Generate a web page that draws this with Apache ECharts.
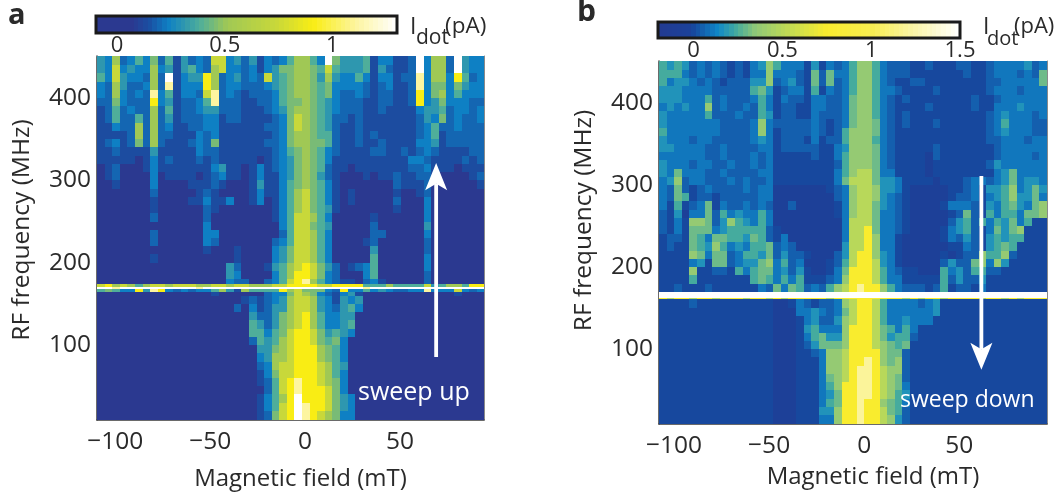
<!DOCTYPE html>
<html><head><meta charset="utf-8">
<style>html,body{margin:0;padding:0;background:#fff}#c{width:1062px;height:499px}</style>
<script src="https://cdn.jsdelivr.net/npm/echarts@6/dist/echarts.min.js"></script>
</head><body><div id="c"></div>
<script>
const FONT = '"Open Sans"';
const TXT = '#2a2a2a';
// Row upper edges in MHz, last entry is the lower limit
const edgesA = [451,440,430,420,410,400,390,380,370,360,350,340,330,320,310,300,290,280,270,260,250,240,230,220,210,200,190,180,174,171,168,165,160,150,140,130,120,110,100,90,80,70,60,50,40,30,20,9];
const edgesB = [451,440,430,420,410,400,390,380,370,360,350,340,330,320,310,300,290,280,270,260,250,240,230,220,210,200,190,180,170,163,161,150,140,130,120,110,100,90,80,70,60,50,40,30,20,9];
const fieldStartA = -109.6, fieldStartB = -107.9, fieldStep = 4;
// Current levels, one char per 4 mT column (index into levelsA / levelsB)
const levelsA = [0,0.14,0.19,0.237,0.31,0.386,0.45,0.51,0.74,0.91,1.11,1.3];
const levelsB = [-0.05,0,0.05,0.1,0.17,0.24,0.3,0.37,0.5,0.75,1.2,1.5];
const rowsA = [
"4372353625 1423288342 4132357753 b644451331 12b3772b43 3",
"4383433734 1453278332 3134667765 8544451421 12b3772b43 3",
"538433272b 1344972342 3284567764 7433531331 22a3773952 3",
"327422372a 1333972332 2234567765 6333321231 12a3663643 3",
"3273232a35 13328a2321 2223567765 6322321221 1293673533 3",
"2263222934 12235a2221 1223566765 4322211221 1293463332 2",
"1252322725 1223442221 1123467765 4322211211 1134452332 3",
"1252252724 1222331221 1112368765 4221211111 1124362322 3",
"1132272723 1122331111 1122368765 4211211111 1123522322 2",
"1111272722 1113231111 1112367765 5211212111 1123512222 2",
"1231262721 1123261111 1122367766 5211211211 1133412222 2",
"1121111411 1113221111 1112356765 3211112211 2123211112 2",
"1111101312 1112121111 1012346765 3111111111 1332111121 2",
"0120001311 1111134110 1312346765 2110111111 1223111011 1",
"0120000301 1110123110 1311346764 2100010112 1122100001 2",
"0010000300 0011121000 1411356765 3100000002 1112000000 1",
"0000000200 0001210000 1311357865 3101000001 0012000000 0",
"0000000100 0011311300 1301357865 3101000002 0003000000 0",
"0000000100 0000210000 0001357865 4100000001 0003000000 0",
"0000000200 0000200000 0001358875 3000001000 0003000000 0",
"0000000000 0000300000 0000358865 4000002000 0004000000 0",
"0000000200 0000330000 0000258875 3000002200 0003000000 0",
"0000000200 0000320000 0002358875 3000012000 0002000000 0",
"0000000000 0000100010 0003468875 3000004000 0002000000 0",
"0000000100 0000000010 0003468875 3000005000 0003000000 0",
"0000000000 0000000420 0014578986 4201235000 0003000000 0",
"0000000000 0000000430 0003579986 3200035000 0002000000 0",
"0000000000 0000000322 0023589a75 3211023100 0002000000 0",
"8978757887 8887788788 7778899998 8999955575 5558457759 9",
"bbabbbbbbb bbbabbbbbb bbbbbbbbbb bbbbbabbbb bbbbbbbbbb b",
"5653394a93 2323357417 5555978666 3293353432 233a333832 3",
"0000000000 0000010000 0023368763 2134100000 0000000100 0",
"0000000000 0000000001 2123478874 3143400000 0000000000 0",
"0000000000 0000000020 3124478874 3245300000 0000000000 0",
"0000000000 0000000000 4224678975 3344000000 0000000000 0",
"0000000000 0000000000 5424678975 3345000000 0000000000 0",
"0000000000 0000000000 5535689986 4543000000 0000000000 0",
"0000000000 0000000000 2545789986 5630000000 0000000000 0",
"0000000000 0000000000 0446789997 6530000000 0000000000 0",
"0000000000 0000000000 0347789997 6530000000 0000000000 0",
"0000000000 0000000000 0237889998 7540000000 0000000000 0",
"0000000000 0000000000 0136889998 7530000000 0000000000 0",
"0000000000 0000000000 012589a998 7630000000 0000000000 0",
"0000000000 0000000000 002589a999 8630000000 0000000000 0",
"0000000000 0000000000 013579b999 8643000000 0000000000 0",
"0000000000 0000000000 013589ba99 8643000000 0000000000 0",
"0000000000 0000000000 012689ba98 7633000000 0000000000 0"
];
const rowsB = [
"5454232321 2134753331 4132357753 2221121112 2112333342 3",
"5553232321 2133733321 6263357753 2221111111 2112333232 6",
"5344323212 2244723421 6262357753 2112211111 1112233333 6",
"4443333222 2256412331 5132357753 3211112111 1112333233 3",
"4443335232 2235313221 3322367753 2121111111 1211233333 3",
"3434337232 2325312211 3322367753 2111121111 1211333433 3",
"4333335222 3225412211 3222367753 2121111111 1112343332 3",
"4333333322 2237322222 3212367763 2121112111 1112353332 2",
"5333333322 2237312222 3212577763 2111111111 1112343332 2",
"4333233222 2234312221 3122577753 2111111111 1112233323 3",
"4433332232 2223312222 2113477763 2111112111 1111233333 3",
"3333332232 2232311111 2113577763 2111102111 1111233332 3",
"4333233223 2232311111 1112577763 2111101111 1112433333 3",
"4363332232 2223311111 1113578863 3111101111 1111346333 3",
"3472332223 2322311111 1113688864 4311110111 2332346344 3",
"3262123222 2323300000 0012378874 4310000011 2314457346 4",
"3265122122 2223300000 0002378874 3210000012 2313457446 3",
"3151236132 2323200200 0001378864 3210000133 3214356436 7",
"2140336253 4335300000 0001378863 3210000012 6215355366 7",
"2131776247 5435300000 0000388863 3210000024 5253546351 1",
"2131666345 5555210000 0000388963 3210000134 5213646711 1",
"1221653665 5465213000 0000388973 3100000132 4214545511 1",
"1211654753 4355623200 0000488973 3100000011 3214565111 1",
"1111763662 3554624221 0002489974 3100000101 2275572111 1",
"1111341662 3446735230 0012589984 3100000242 2673741111 1",
"1111711221 5356634241 0013699985 3211000534 2552211111 1",
"1111511111 1156535351 1123799985 3311111524 2241111111 1",
"1121112111 1113263652 325789a997 5322212512 2131111111 1",
"bbbbbbbbbb bbbbbbbbbb bbbbbbbbbb bbbbbbbbbb bbbbbbbbbb b",
"9899899899 9899898999 9989999999 9989899899 9989989899 9",
"1111211111 1111100132 1223789985 3333234111 1111111111 1",
"1111111111 1111100033 4323689985 3333334111 1111111111 1",
"1111111111 1111100013 4224789985 3343331111 1111111111 1",
"1111111111 1111100014 5333799986 5353111111 1111111111 1",
"1111111111 1111100013 5644799986 4552111111 1111111111 1",
"1111111111 1111100012 4666799987 6561111111 1111111111 1",
"1111111111 1111100011 2377899997 6621111111 1111111111 1",
"1111111111 1111100011 1377899a97 6721111111 1111111111 1",
"1111111111 1111100011 137789aa98 7721111111 1111111111 1",
"1111111111 1111100011 136789aa98 7621111111 1111111111 1",
"1111111111 1111100011 135799aa98 7631111111 1111111111 1",
"1111111111 1111100011 134699aa98 7541111111 1111111111 1",
"1111111111 1111100011 135699a997 6531111111 1111111111 1",
"1111111111 1111100011 144799a998 6521111111 1111111111 1",
"1111111111 1111100011 133799a998 7421111111 1111111111 1"
];
// colour scales: current (pA) -> colour
const scaleValuesA = [-0.1,0.07,0.15,0.237,0.386,0.51,0.74,0.91,1.11,1.3];
const scaleColorsA = ['#2b3990','#2b3990','#1a4fa2','#0e80c4','#4fae9a','#a0c855','#c8d83a','#f9ed14','#fdf5a0','#ffffff'];
const scaleValuesB = [-0.2,-0.02,0,0.135,0.24,0.35,0.5,0.75,1,1.26,1.5];
const scaleColorsB = ['#233a92','#1c4199','#17489e','#0f87c8','#45ab9e','#90c877','#b8d85a','#f9ec2e','#f8ee50','#fcf6b0','#ffffff'];
const xTicks = [-100,-50,0,50], yTicks = [100,200,300,400];
const cbarTicksA = [0,0.5,1], cbarTicksB = [0,0.5,1,1.5];
const arrowA = [[69,85.5,321,288,296]];   // field, tail, tip, head base, notch (MHz)
const arrowB = [[61.6,311,75,108,100]];

function colorOf(v, vs, cs){
  if (v<=vs[0]) return cs[0];
  for (let i=1;i<vs.length;i++) if (v<=vs[i]) {
    return echarts.color.lerp((v-vs[i-1])/(vs[i]-vs[i-1]), [cs[i-1],cs[i]]);
  }
  return cs[cs.length-1];
}
function cells(rows, edges, start, levels){
  const out=[];
  rows.forEach((r,ri)=>{
    const s=r.replace(/ /g,'');
    for(let c=0;c<51;c++){
      out.push([start+c*fieldStep,start+(c+1)*fieldStep,edges[ri],edges[ri+1],levels[parseInt(s[c]||'0',16)]]);
    }
  });
  return out;
}
function cellSeries(xi, yi, data, vs, cs, z){
  return {type:'custom',xAxisIndex:xi,yAxisIndex:yi,data,z:z||1,animation:false,progressive:0,silent:true,
    encode:{x:[0,1],y:[2,3]},
    renderItem(p,api){
      const a=api.coord([api.value(0),api.value(2)]),b=api.coord([api.value(1),api.value(3)]);
      const x0=Math.round(a[0]),x1=Math.round(b[0]),y0=Math.round(a[1]),y1=Math.round(b[1]);
      return {type:'rect',shape:{x:x0,y:y0,width:x1-x0,height:Math.max(y1-y0,1)},style:{fill:colorOf(api.value(4),vs,cs)}};
    }};
}
function arrowSeries(xi,yi,data){
  return {type:'custom',xAxisIndex:xi,yAxisIndex:yi,data,z:5,animation:false,silent:true,
    encode:{x:0,y:[1,2]},
    renderItem(p,api){
      const x=api.value(0),tail=api.value(1),tip=api.value(2),base=api.value(3),notch=api.value(4);
      const pt=(a,b)=>api.coord([a,b]);
      return {type:'group',children:[
        {type:'polygon',shape:{points:[pt(x-1,tail),pt(x+1,tail),pt(x+1,notch),pt(x-1,notch)]},style:{fill:'#fff'}},
        {type:'polygon',shape:{points:[pt(x,tip),pt(x+5.8,base),pt(x,notch),pt(x-5.8,base)]},style:{fill:'#fff'}}
      ]};
    }};
}
function cbarCells(min,max,n){
  const out=[];
  for(let i=0;i<n;i++){const a=min+(max-min)*i/n,b=min+(max-min)*(i+1)/n;out.push([a,b,1,0,(a+b)/2]);}
  return out;
}
const fmt=v=>String(v).replace('-','\u2212');
const mainLbl={color:TXT,fontFamily:FONT,fontSize:24.5,formatter:fmt};
const barLbl={color:TXT,fontFamily:FONT,fontSize:22,formatter:fmt};
function xMain(min,max,margin,gridIndex,nameGap,shift){
  return {type:'value',gridIndex,min,max,position:'bottom',name:'Magnetic field (mT)',nameLocation:'middle',nameGap,
    nameTextStyle:{color:TXT,fontFamily:FONT,fontSize:24,padding:[0,0,0,shift]},
    axisLine:{show:true,onZero:false,lineStyle:{color:'#3a3a3a',width:1.5}},
    axisTick:{show:true,inside:true,length:4,customValues:xTicks,lineStyle:{color:'#222',width:1}},
    axisLabel:Object.assign({margin,customValues:xTicks,showMinLabel:true,showMaxLabel:true},mainLbl),splitLine:{show:false}};
}
function mirrorAxis(kind,min,max,gridIndex){
  return {type:'value',gridIndex,min,max,position:kind,
    axisLine:{show:true,onZero:false,lineStyle:{color:'#8a8a8a',width:1}},
    axisTick:{show:true,inside:true,length:4,customValues:kind==='top'?xTicks:yTicks,lineStyle:{color:'#222',width:1}},
    axisLabel:{show:false},splitLine:{show:false}};
}
function yMain(gridIndex,shift){
  return {type:'value',gridIndex,min:9,max:451,position:'left',name:'RF frequency (MHz)',nameLocation:'middle',nameGap:62,
    nameTextStyle:{color:TXT,fontFamily:FONT,fontSize:24.5,padding:[0,0,0,shift]},
    axisLine:{show:true,onZero:false,lineStyle:{color:'#3a3a3a',width:1.5}},
    axisTick:{show:true,inside:true,length:4,customValues:yTicks,lineStyle:{color:'#222',width:1}},
    axisLabel:Object.assign({margin:6,customValues:yTicks,showMinLabel:true,showMaxLabel:true},mainLbl),splitLine:{show:false}};
}
function cbarX(min,max,ticks,gridIndex){
  return {type:'value',gridIndex,min,max,position:'bottom',
    axisLine:{show:false},
    axisTick:{show:true,inside:true,length:3,customValues:ticks,lineStyle:{color:'#222',width:1.5}},
    axisLabel:Object.assign({margin:2,customValues:ticks,showMinLabel:true,showMaxLabel:true},barLbl),splitLine:{show:false}};
}
function cbarY(gridIndex){return {type:'value',gridIndex,min:0,max:1,show:false};}
function txt(x,y,text,size,extra){
  return {type:'text',x,y,z:20,style:Object.assign({text,fill:TXT,font:size+'px '+FONT,textVerticalAlign:'middle'},extra||{})};
}
const chart=echarts.init(document.getElementById('c'),null,{renderer:'canvas'});
chart.setOption({
  animation:false,backgroundColor:'#fff',
  grid:[
    {left:97,top:56,width:387,height:364,containLabel:false},
    {left:659,top:61,width:388,height:363},
    {left:96,top:16,width:301,height:17,show:true,borderColor:'#1a1a1a',borderWidth:3,backgroundColor:'transparent',z:6},
    {left:658,top:22,width:302,height:16,show:true,borderColor:'#1a1a1a',borderWidth:3,backgroundColor:'transparent',z:6}
  ],
  xAxis:[
    xMain(-109.6,94.2,10,0,47,20),mirrorAxis('top',-109.6,94.2,0),
    xMain(-107.9,96.1,10,1,41,40),mirrorAxis('top',-107.9,96.1,1),
    cbarX(-0.098,1.3,cbarTicksA,2),cbarX(-0.2,1.5,cbarTicksB,3)
  ],
  yAxis:[
    yMain(0,16),mirrorAxis('right',9,451,0),
    yMain(1,44),mirrorAxis('right',9,451,1),
    cbarY(2),cbarY(3)
  ],
  series:[
    cellSeries(0,0,cells(rowsA,edgesA,fieldStartA,levelsA),scaleValuesA,scaleColorsA),
    cellSeries(2,2,cells(rowsB,edgesB,fieldStartB,levelsB),scaleValuesB,scaleColorsB),
    arrowSeries(0,0,arrowA),arrowSeries(2,2,arrowB),
    cellSeries(4,4,cbarCells(-0.098,1.3,64),scaleValuesA,scaleColorsA),
    cellSeries(5,5,cbarCells(-0.2,1.5,64),scaleValuesB,scaleColorsB)
  ],
  graphic:[
    txt(8,16,'a',29,{font:'bold 29px '+FONT}),
    txt(577,12,'b',30,{font:'bold 30px '+FONT}),
    txt(358,393,'sweep up',25,{fill:'#fff'}),
    txt(900,400,'sweep down',23,{fill:'#fff'}),
    txt(410,27,'I',23),txt(416,38,'dot',21),txt(445,27,'(pA)',22.5),
    txt(983,27,'I',23),txt(987,39,'dot',20),txt(1014,27,'(pA)',22)
  ]
});
</script></body></html>
